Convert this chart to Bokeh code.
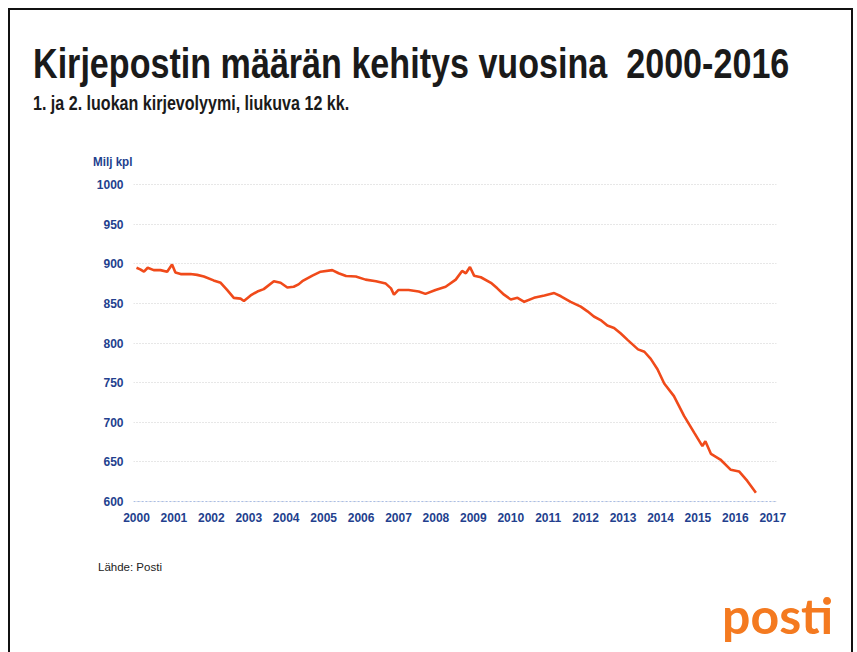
from bokeh.plotting import figure
from bokeh.models import Range1d, FixedTicker, Span, Div
from bokeh.layouts import column
from bokeh.embed import file_html
from bokeh.resources import INLINE

# ---- data (decimal year, million items) ----
years = [2000.0, 2000.1, 2000.2, 2000.3, 2000.46, 2000.64, 2000.82, 2000.95, 2001.04, 2001.18,
         2001.44, 2001.62, 2001.8, 2002.06, 2002.25, 2002.42, 2002.6, 2002.78, 2002.87, 2003.05,
         2003.23, 2003.4, 2003.67, 2003.85, 2004.03, 2004.2, 2004.33, 2004.43, 2004.7, 2004.92,
         2005.23, 2005.4, 2005.6, 2005.86, 2006.12, 2006.4, 2006.66, 2006.8, 2006.88, 2007.0,
         2007.27, 2007.54, 2007.72, 2007.99, 2008.26, 2008.53, 2008.7, 2008.8, 2008.91, 2009.02,
         2009.2, 2009.47, 2009.64, 2009.82, 2010.0, 2010.18, 2010.36, 2010.62, 2010.9, 2011.16,
         2011.34, 2011.6, 2011.87, 2012.05, 2012.22, 2012.4, 2012.58, 2012.76, 2012.94, 2013.12,
         2013.4, 2013.57, 2013.74, 2013.92, 2014.1, 2014.36, 2014.63, 2014.9, 2015.12, 2015.2,
         2015.35, 2015.6, 2015.88, 2016.1, 2016.32, 2016.55]
volume = [895, 893, 890, 895, 892, 892, 890, 899, 889, 887,
          887, 886, 884, 879, 876, 867, 857, 856, 853, 860,
          865, 868, 878, 876, 870, 871, 874, 878, 885, 890,
          892, 888, 884.5, 884, 880, 878, 875, 869, 861, 867,
          867, 865, 862, 867, 871, 880, 891, 888, 896, 885,
          883, 876, 869, 861, 855, 857, 852, 857, 860, 863,
          859, 852, 846, 840, 833.5, 829, 822, 819, 812, 804,
          792, 789, 780, 767, 749, 733, 708, 687, 670, 676,
          660, 653, 640, 638, 626, 611]

x_ticks = list(range(2000, 2018))
y_ticks = [600, 650, 700, 750, 800, 850, 900, 950, 1000]

title_text = "Kirjepostin määrän kehitys vuosina  2000-2016"
subtitle_text = "1. ja 2. luokan kirjevolyymi, liukuva 12 kk."
unit_text = "Milj kpl"
source_text = "Lähde: Posti"
logo_text = "posti"

FONT = "'Liberation Sans', Arial, sans-serif"
NAVY = "#233f8e"


def txt(s, left, top, size, weight="bold", color="#1a1a1a", family=FONT, sx=1.0):
    return (f'<div style="position:absolute;left:{left}px;top:{top}px;font-family:{family};'
            f'font-size:{size}px;font-weight:{weight};line-height:1;white-space:pre;color:{color};'
            f'transform:scaleX({sx});transform-origin:0 0">{s}</div>')


top_html = ('<div style="position:relative;width:857px;height:170px">'
            + txt(title_text, 33, 43, 42, sx=0.812)
            + txt(subtitle_text, 33, 92, 21, sx=0.765)
            + txt(unit_text, 93, 156, 12, color=NAVY, sx=0.97)
            + '</div>')
bottom_html = ('<div style="position:relative;width:857px;height:117px">'
               + txt(source_text, 98, 27, 11.5, weight="normal", color="#222222", sx=1.0)
               + txt(logo_text, 722, 55, 50, color="#f47a20", family="Lato, sans-serif")
               + '</div>')

top_div = Div(text=top_html, width=857, height=170, margin=0)
bottom_div = Div(text=bottom_html, width=857, height=117, margin=0)

p = figure(width=857, height=365, output_backend="svg", toolbar_location=None, title=None,
           x_range=Range1d(1999.92, 2017.1), y_range=Range1d(595, 1007.6), margin=0,
           min_border_left=133, min_border_right=81, min_border_top=8, min_border_bottom=30)
p.outline_line_color = None
p.background_fill_color = None
p.border_fill_color = None

p.xgrid.grid_line_color = None
p.ygrid.grid_line_color = "#cfcfcf"
p.ygrid.grid_line_dash = "1 2"
p.ygrid.grid_line_width = 1

for ax in (p.xaxis, p.yaxis):
    ax.axis_line_color = None
    ax.major_tick_line_color = None
    ax.minor_tick_line_color = None
    ax.major_tick_out = 0
    ax.major_tick_in = 0
    ax.minor_tick_out = 0
    ax.major_label_text_font = "Liberation Sans"
    ax.major_label_text_font_style = "bold"
    ax.major_label_text_font_size = "12px"
    ax.major_label_text_color = NAVY
p.xaxis.ticker = FixedTicker(ticks=x_ticks)
p.yaxis.ticker = FixedTicker(ticks=y_ticks)
p.xaxis.major_label_standoff = 7
p.yaxis.major_label_standoff = 10

p.add_layout(Span(location=y_ticks[0], dimension="width", line_color="#a8bce6",
                  line_dash="2 2", line_width=1))

p.line(years, volume, line_color="#f04a1a", line_width=2.6)

page = column(top_div, p, bottom_div, spacing=0, margin=0, width=857, height=652)
page.styles = {
    "background-color": "white",
    "background-image": ("linear-gradient(#111,#111), linear-gradient(#111,#111), "
                         "linear-gradient(#111,#111)"),
    "background-size": "2px 100%, 845px 2px, 2px 100%",
    "background-position": "8px 8px, 8px 8px, 851px 8px",
    "background-repeat": "no-repeat",
}

open("out.html", "w").write(file_html(page, INLINE))
